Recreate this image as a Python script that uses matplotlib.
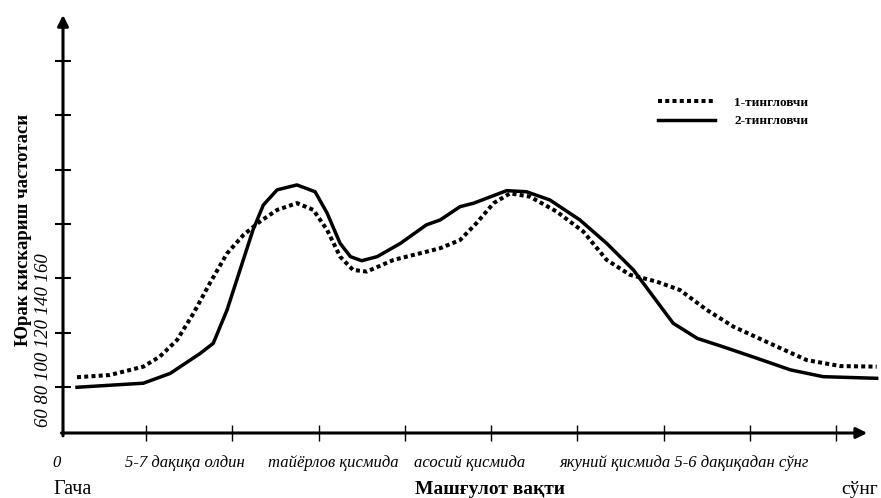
import numpy as np
import matplotlib.pyplot as plt

plt.rcParams['font.family'] = ['Liberation Serif', 'DejaVu Serif']

# x: position along training time (tick units), y: heart rate
x1 = [0.20, 0.58, 0.97, 1.16, 1.36, 1.55, 1.74, 1.94, 2.13, 2.32, 2.52, 2.75, 2.94,
      3.10, 3.25, 3.40, 3.56, 3.87, 4.25, 4.41, 4.64, 4.83, 5.03, 5.22, 5.45, 5.76,
      6.07, 6.34, 6.61, 6.92, 7.19, 7.50, 7.81, 8.27, 8.66, 9.05, 9.47]
y1 = [63.6, 64.4, 67.5, 71.2, 77.3, 87.1, 98.2, 109.2, 116.0, 120.9, 125.2, 127.7, 125.2,
      117.8, 108.0, 103.1, 102.5, 106.8, 109.8, 111.1, 114.1, 120.3, 127.7, 131.3, 130.1, 124.6,
      117.2, 106.8, 101.3, 98.8, 95.7, 88.4, 82.2, 75.5, 69.9, 67.7, 67.5]

x2 = [0.20, 0.97, 1.28, 1.63, 1.78, 1.94, 2.09, 2.24, 2.36, 2.52, 2.75, 2.96, 3.10,
      3.25, 3.37, 3.50, 3.68, 3.95, 4.25, 4.41, 4.64, 4.80, 5.18, 5.41, 5.68, 6.03,
      6.34, 6.65, 6.88, 7.11, 7.39, 7.69, 8.08, 8.47, 8.85, 9.47]
y2 = [59.9, 61.4, 65.0, 72.4, 76.1, 88.4, 103.1, 117.8, 127.0, 132.6, 134.4, 131.9, 124.0,
      112.9, 108.0, 106.5, 108.0, 112.9, 119.7, 121.5, 126.4, 127.7, 132.3, 131.9, 128.9, 121.5,
      112.9, 103.1, 93.3, 83.5, 77.9, 74.8, 70.6, 66.3, 63.8, 63.2]

series_names = ['1-тингловчи', '2-тингловчи']
yticks = [60, 80, 100, 120, 140, 160, 180]
xticks = [1, 2, 3, 4, 5, 6, 7, 8, 9]
phase_labels = ['5-7 дақиқа олдин', 'тайёрлов қисмида', 'асосий қисмида',
                'якуний қисмида 5-6 дақиқадан сўнг']

W, H = 881, 498
fig = plt.figure(figsize=(W / 100, H / 100), dpi=100)
ax = fig.add_axes([63 / W, 65 / H, (W - 63) / W, (H - 65) / H])
ax.set_xlim(0.038, 9.52)
ax.set_ylim(43.06, 202.5)
for s in ax.spines.values():
    s.set_visible(False)
ax.patch.set_alpha(0)

ax.plot(x1, y1, color='black', lw=2.9, ls=(0, (1, 0.8)), dash_capstyle='butt',
        label=series_names[0], clip_on=False)
ax.plot(x2, y2, color='black', lw=2.5, solid_joinstyle='round',
        label=series_names[1], clip_on=False)

# axes with arrows
ax.annotate('', xy=(9.36, 43.06), xytext=(0.02, 43.06), annotation_clip=False,
            arrowprops=dict(arrowstyle='-|>', lw=2.2, color='black', mutation_scale=16,
                            shrinkA=0, shrinkB=0))
ax.annotate('', xy=(0.038, 197.0), xytext=(0.038, 42.0), annotation_clip=False,
            arrowprops=dict(arrowstyle='-|>', lw=2.2, color='black', mutation_scale=16,
                            shrinkA=0, shrinkB=0))

ax.set_xticks(xticks)
ax.set_yticks(yticks)
ax.set_xticklabels([])
ax.set_yticklabels([])
ax.tick_params(axis='x', direction='inout', length=11, width=1, color='black')
ax.tick_params(axis='y', direction='inout', length=11, width=1.5, color='black')

leg = ax.legend(loc='upper left', bbox_to_anchor=(583 / (W - 63), (H - 65 - 85) / (H - 65)),
                frameon=False, handlelength=4.3, handletextpad=1.5, labelspacing=0.45,
                prop={'weight': 'bold', 'size': 9.5})

# text labels
fig.text(57 / W, 1 - 463 / H, '0', style='italic', fontsize=12, ha='center', va='center')
for xc, lab in zip([185, 333, 470, 684], phase_labels):
    fig.text(xc / W, 1 - 463 / H, lab, style='italic', fontsize=12, ha='center', va='center')
fig.text(53 / W, 1 - 489 / H, 'Гача', fontsize=14.5, ha='left', va='center')
fig.text(490 / W, 1 - 489 / H, 'Машғулот вақти', fontsize=14, weight='bold',
         ha='center', va='center')
fig.text(841 / W, 1 - 489 / H, 'сўнг', fontsize=14, ha='left', va='center')
fig.text(24 / W, 1 - 230 / H, 'Юрак кискариш частотаси', fontsize=13.5, weight='bold',
         rotation=90, ha='center', va='center')
fig.text(44 / W, 1 - 340 / H, '60 80 100 120 140 160', fontsize=13.5, style='italic',
         rotation=90, ha='center', va='center')

fig.savefig('out.png', dpi=100)
